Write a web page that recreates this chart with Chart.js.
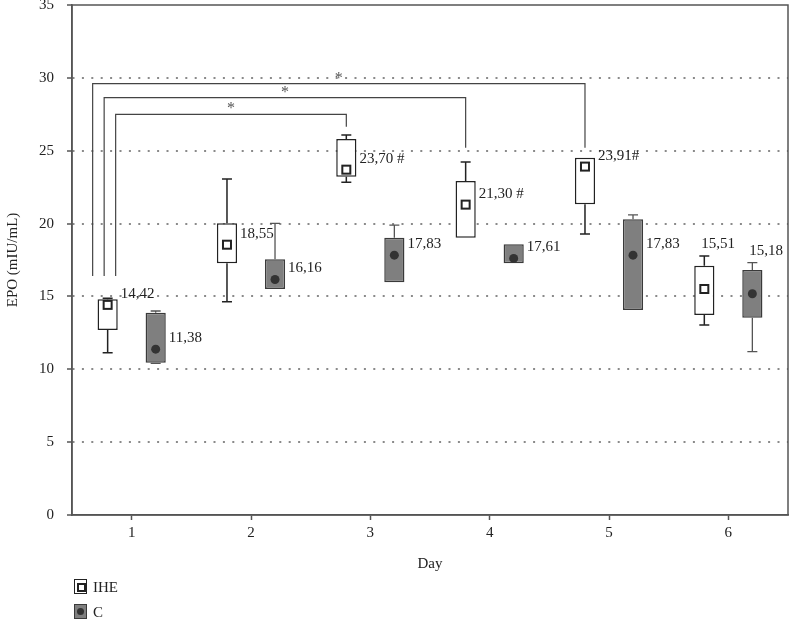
<!DOCTYPE html>
<html>
<head>
<meta charset="utf-8">
<script src="https://cdn.jsdelivr.net/npm/chart.js@4.4.1/dist/chart.umd.min.js"></script>
<style>
  body { margin: 0; background: #fff; }
  #wrap { position: relative; width: 790px; height: 620px; }
  .leg { position: absolute; left: 74px; font: 15px "Liberation Serif", serif; color: #222; line-height: 16px; }
  .leg .ico { position: absolute; left: 0; top: 0; width: 11px; height: 13px; box-sizing: content-box; }
  .leg span { position: absolute; left: 19px; top: 0; white-space: nowrap; }
  #legIHE { top: 579px; }
  #legIHE .ico { border: 1.5px solid #222; background: #fff; }
  #legIHE .ico i { position: absolute; left: 2px; top: 3px; width: 5px; height: 5px; border: 2px solid #222; }
  #legC { top: 604px; }
  #legC .ico { border: 1.5px solid #3a3a3a; background: #7f7f7f; }
  #legC .ico i { position: absolute; left: 2px; top: 3px; width: 7px; height: 7px; border-radius: 50%; background: #333; }
</style>
</head>
<body>
<div id="wrap">
  <canvas id="epoChart" width="790" height="620"></canvas>
  <div class="leg" id="legIHE"><div class="ico"><i></i></div><span>IHE</span></div>
  <div class="leg" id="legC"><div class="ico"><i></i></div><span>C</span></div>
</div>
<script>
// data
const days = ['1', '2', '3', '4', '5', '6'];

const iheMin  = [11.14, 14.64, 22.83, 19.03, 19.28, 13.04];
const iheQ1   = [12.70, 17.27, 23.22, 19.03, 21.32, 13.73];
const iheQ3   = [14.80, 20.02, 25.80, 22.92, 24.52, 17.11];
const iheMax  = [14.87, 23.06, 26.08, 24.23, 24.52, 17.77];
const iheMean = [14.42, 18.55, 23.70, 21.30, 23.91, 15.51];
const iheText = ['14,42', '18,55', '23,70 #', '21,30 #', '23,91#', '15,51'];

const cMin  = [10.40, 15.51, 15.97, 17.27, 14.07, 11.21];
const cQ1   = [10.45, 15.51, 15.97, 17.27, 14.07, 13.54];
const cQ3   = [13.88, 17.55, 19.03, 18.58, 20.29, 16.81];
const cMax  = [14.00, 20.02, 19.90, 18.58, 20.59, 17.32];
const cMean = [11.38, 16.16, 17.83, 17.61, 17.83, 15.18];
const cText = ['11,38', '16,16', '17,83', '17,61', '17,83', '15,18'];

// significance brackets: day 1 IHE vs day index
const sigTo    = [2, 3, 4];
const sigLevel = [27.5, 28.65, 29.6];
const sigEnd   = [26.65, 25.2, 25.2];
const sigStart = 16.4;

const serif = '"Liberation Serif", "DejaVu Serif", serif';

const boxExtras = {
  id: 'boxExtras',
  afterDatasetsDraw(chart) {
    const { ctx, scales: { y }, chartArea } = chart;
    const groups = [
      { meta: chart.getDatasetMeta(0), lo: iheMin, hi: iheMax, q1: iheQ1, q3: iheQ3, mean: iheMean, text: iheText, line: '#222', lw: 1.5, mark: 'square' },
      { meta: chart.getDatasetMeta(1), lo: cMin, hi: cMax, q1: cQ1, q3: cQ3, mean: cMean, text: cText, line: '#555', lw: 1.3, mark: 'dot' }
    ];

    ctx.save();
    groups.forEach(g => {
      g.meta.data.forEach((bar, i) => {
        const x = bar.x;
        const halfW = bar.width / 2;
        ctx.strokeStyle = g.line;
        ctx.lineWidth = g.lw;

        // whiskers
        const ends = [[g.q3[i], g.hi[i]], [g.q1[i], g.lo[i]]];
        ends.forEach(([from, to]) => {
          if (Math.abs(to - from) < 0.01) return;
          const y0 = y.getPixelForValue(from);
          const y1 = y.getPixelForValue(to);
          ctx.beginPath();
          ctx.moveTo(x, y0);
          ctx.lineTo(x, y1);
          ctx.moveTo(x - 5, y1);
          ctx.lineTo(x + 5, y1);
          ctx.stroke();
        });

        // mean marker
        const ym = y.getPixelForValue(g.mean[i]);
        if (g.mark === 'square') {
          ctx.fillStyle = '#fff';
          ctx.fillRect(x - 4, ym - 4, 8, 8);
          ctx.lineWidth = 2;
          ctx.strokeStyle = '#222';
          ctx.strokeRect(x - 4, ym - 4, 8, 8);
        } else {
          ctx.fillStyle = '#333';
          ctx.beginPath();
          ctx.arc(x, ym, 4.5, 0, Math.PI * 2);
          ctx.fill();
        }

        // value label
        ctx.font = '15px ' + serif;
        ctx.fillStyle = '#222';
        ctx.textAlign = 'left';
        ctx.textBaseline = 'middle';
        if (i === days.length - 1) {
          ctx.fillText(g.text[i], x - 3, y.getPixelForValue(g.hi[i]) - 12);
        } else {
          ctx.fillText(g.text[i], x + halfW + 3, ym - 11);
        }
      });
    });

    // brackets
    const iheBars = chart.getDatasetMeta(0).data;
    ctx.strokeStyle = '#444';
    ctx.lineWidth = 1.2;
    sigTo.forEach((to, k) => {
      const xl = iheBars[0].x + 8 - 11.5 * k;
      const xr = iheBars[to].x;
      const yl = y.getPixelForValue(sigLevel[k]);
      ctx.beginPath();
      ctx.moveTo(xl, y.getPixelForValue(sigStart));
      ctx.lineTo(xl, yl);
      ctx.lineTo(xr, yl);
      ctx.lineTo(xr, y.getPixelForValue(sigEnd[k]));
      ctx.stroke();
      ctx.fillStyle = '#555';
      ctx.font = '16px ' + serif;
      ctx.textAlign = 'center';
      ctx.textBaseline = 'alphabetic';
      ctx.fillText('*', (xl + xr) / 2, yl - 1);
    });

    // frame
    ctx.strokeStyle = '#555';
    ctx.lineWidth = 1.5;
    ctx.strokeRect(chartArea.left, chartArea.top, chartArea.right - chartArea.left, chartArea.bottom - chartArea.top);
    ctx.restore();
  }
};

const epoCtx = document.getElementById('epoChart').getContext('2d');

const epoChart = new Chart(epoCtx, {
  type: 'bar',
  data: {
    labels: days,
    datasets: [
      {
        label: 'IHE',
        data: days.map((d, i) => [iheQ1[i], iheQ3[i]]),
        backgroundColor: '#ffffff',
        borderColor: '#222',
        borderWidth: 1.5,
        borderSkipped: false,
        categoryPercentage: 0.805,
        barPercentage: 0.42
      },
      {
        label: 'C',
        data: days.map((d, i) => [cQ1[i], cQ3[i]]),
        backgroundColor: '#7f7f7f',
        borderColor: '#3a3a3a',
        borderWidth: 1.5,
        borderSkipped: false,
        categoryPercentage: 0.805,
        barPercentage: 0.42
      }
    ]
  },
  options: {
    responsive: false,
    animation: false,
    layout: {
      padding: { top: 5, right: 2, bottom: 43, left: 0 }
    },
    plugins: {
      legend: { display: false },
      tooltip: { enabled: false }
    },
    scales: {
      x: {
        grid: { offset: false, drawOnChartArea: false, tickLength: 5, color: '#555', tickWidth: 1.5 },
        border: { color: '#555', width: 1.5 },
        ticks: { color: '#222', padding: 4, font: { family: serif, size: 15 } },
        title: { display: true, text: 'Day', color: '#222', font: { family: serif, size: 15 } },
        afterFit(scale) {
          scale.height = 62;
          scale.paddingLeft = 0;
          scale.paddingRight = 0;
        }
      },
      y: {
        min: 0,
        max: 35,
        ticks: { stepSize: 5, color: '#222', padding: 13, font: { family: serif, size: 15 } },
        grid: {
          color: c => (c.tick.value === 0 || c.tick.value === 35) ? 'rgba(0,0,0,0)' : '#8a8a8a',
          lineWidth: 2,
          tickColor: '#555',
          tickWidth: 1.5,
          tickLength: 5,
          tickBorderDash: []
        },
        border: { color: '#555', width: 1.5, dash: [2, 7.4] },
        title: { display: true, text: 'EPO (mIU/mL)', color: '#222', font: { family: serif, size: 15 } },
        afterFit(scale) {
          scale.width = 72;
          scale.paddingTop = 0;
          scale.paddingBottom = 0;
        }
      }
    }
  },
  plugins: [boxExtras]
});
</script>
</body>
</html>
